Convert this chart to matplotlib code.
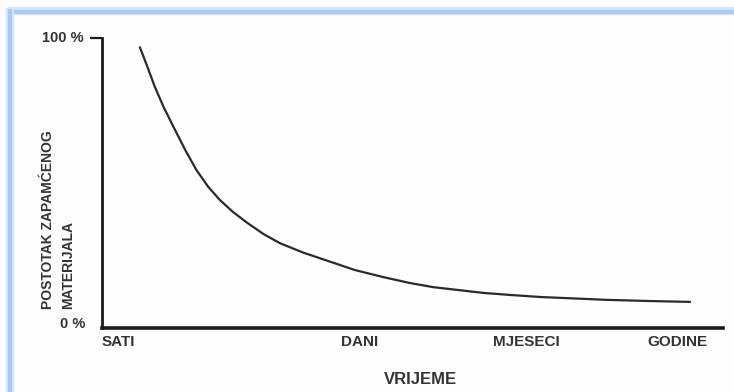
import matplotlib
matplotlib.use("Agg")
import matplotlib.pyplot as plt
from matplotlib.lines import Line2D

# data (x on 0-100 time scale, y in percent retained)
time_pos = [6.1, 7.2, 8.5, 9.9, 11.5, 13.4, 15.2, 17.1, 19.0, 21.1, 23.3, 26.0, 28.7,
            32.4, 36.7, 40.7, 45.2, 49.6, 53.3, 61.4, 65.7, 70.5, 81.3, 88.2, 94.7]
retention = [96.8, 90.7, 83.2, 76.3, 69.4, 61.4, 54.5, 48.7, 44.1, 40.0, 36.4, 32.4, 29.2,
             26.0, 22.9, 20.0, 17.6, 15.5, 14.1, 12.1, 11.4, 10.7, 9.7, 9.3, 9.0]
x_tick_pos = [0, 41.5, 68.4, 92.6]
x_tick_labels = ["SATI", "DANI", "MJESECI", "GODINE"]
y_label = "POSTOTAK ZAPAMĆENOG\nMATERIJALA"
x_label = "VRIJEME"

plt.rcParams['font.family'] = ['Liberation Sans', 'DejaVu Sans']
W, H = 734, 392
fig = plt.figure(figsize=(W / 100, H / 100), dpi=100)
fig.patch.set_facecolor('#fdfdfd')

ax = fig.add_axes([102 / W, 1 - 328 / H, (723 - 102) / W, (328 - 38) / H])
ax.set_facecolor('#fdfdfd')
ax.plot(time_pos, retention, color='#2a2a2a', lw=1.6, solid_capstyle='round',
        solid_joinstyle='round')
ax.set_xlim(0, 100)
ax.set_ylim(0, 100)

for s in ['top', 'right']:
    ax.spines[s].set_visible(False)
ax.spines['left'].set_linewidth(2.0)
ax.spines['bottom'].set_linewidth(2.6)
ax.spines['left'].set_color('#1a1a1a')
ax.spines['bottom'].set_color('#1a1a1a')

txtcol = '#333333'
ax.set_xticks(x_tick_pos)
ax.set_xticklabels(x_tick_labels, fontsize=11, fontweight='bold', color=txtcol)
ax.tick_params(axis='x', length=0, pad=5)
ax.get_xticklabels()[0].set_ha('left')

ax.set_yticks([100])
ax.set_yticklabels(["100 %"], fontsize=10.5, fontweight='bold', color=txtcol)
ax.tick_params(axis='y', which='major', length=9, width=1.6, pad=4, color='#1a1a1a')
ax.set_yticks([2.0], minor=True)
ax.set_yticklabels(["0 %"], minor=True, fontsize=10.5, fontweight='bold', color=txtcol)
ax.tick_params(axis='y', which='minor', length=0, pad=12)
for lab in ax.get_yticklabels():
    lab.set_va('center')

fig.text(420 / W, 1 - 379 / H, x_label, ha='center', va='center',
         fontsize=12, fontweight='bold', color=txtcol)
fig.text(58 / W, 1 - 309 / H, y_label, ha='center', va='bottom', rotation=90,
         multialignment='left', fontsize=10, fontweight='bold', color=txtcol,
         linespacing=1.55)

# blue frame at top and left
fig.add_artist(Line2D([8 / W, 1], [1 - 11 / H, 1 - 11 / H], transform=fig.transFigure,
                      color='#d6e6fa', lw=6, solid_capstyle='butt'))
fig.add_artist(Line2D([8 / W, 1], [1 - 11.5 / H, 1 - 11.5 / H], transform=fig.transFigure,
                      color='#a8c9f2', lw=3, solid_capstyle='butt'))
fig.add_artist(Line2D([10 / W, 10 / W], [0, 1 - 8 / H], transform=fig.transFigure,
                      color='#d6e6fa', lw=6, solid_capstyle='butt'))
fig.add_artist(Line2D([10 / W, 10 / W], [0, 1 - 9 / H], transform=fig.transFigure,
                      color='#a8c9f2', lw=3, solid_capstyle='butt'))

fig.savefig("out.png", dpi=100, facecolor=fig.get_facecolor())
